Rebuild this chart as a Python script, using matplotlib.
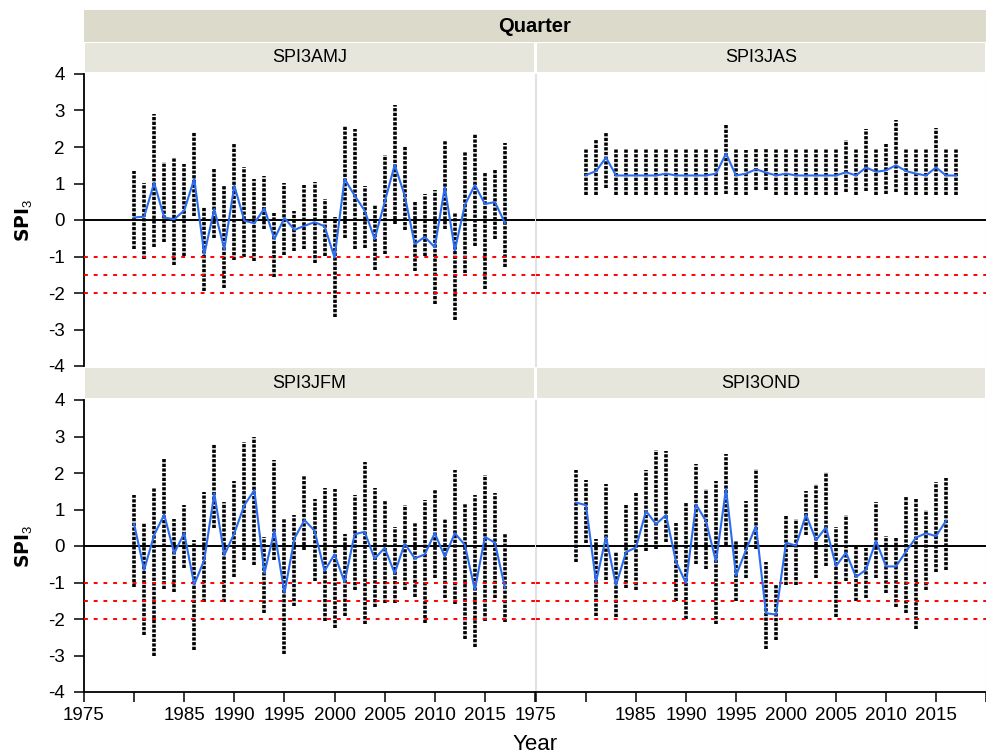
import matplotlib.pyplot as plt
from matplotlib.patches import Rectangle

plt.rcParams['font.family'] = ['Liberation Sans', 'DejaVu Sans']

W, H = 987, 756

# years for each quarter (OND is one year earlier)
years = list(range(1980, 2018))
years_ond = list(range(1979, 2017))

# SPI3 AMJ: station mean, lowest and highest station per year
amj_mean = [0.07, 0.09, 1.02, 0.07, 0.02, 0.26, 1.13, -0.94, 0.30, -0.80,
            0.94, -0.02, -0.09, 0.32, -0.52, 0.06, -0.27, -0.16, -0.06, -0.17,
            -1.03, 1.13, 0.67, 0.26, -0.52, 0.49, 1.51, 0.67, -0.66, -0.46,
            -0.75, 0.90, -0.83, 0.41, 0.96, 0.44, 0.49, -0.08]
amj_lo = [-0.80, -1.06, -0.75, -0.61, -1.24, -0.98, 0.12, -1.94, -0.50, -1.85,
          -1.09, -1.00, -1.12, -0.25, -1.55, -0.96, -0.84, -0.80, -1.18, -0.98,
          -2.65, -0.50, -0.80, -0.78, -1.37, -0.94, -0.11, -0.27, -1.39, -0.98,
          -2.31, -0.25, -2.74, -1.44, -0.71, -1.90, -0.52, -1.28]
amj_hi = [1.33, 1.02, 2.91, 1.59, 1.72, 1.54, 2.41, 0.35, 1.42, 0.93,
          2.12, 1.45, 1.11, 1.20, 0.19, 1.01, 0.26, 0.97, 1.04, 0.58,
          0.07, 2.58, 2.49, 0.94, 0.41, 1.77, 3.15, 2.03, 0.53, 0.72,
          0.81, 2.18, 0.19, 1.86, 2.35, 1.29, 1.39, 2.12]

# SPI3 JAS
jas_mean = [1.23, 1.34, 1.71, 1.22, 1.22, 1.22, 1.22, 1.22, 1.27, 1.22,
            1.22, 1.22, 1.22, 1.27, 1.82, 1.22, 1.27, 1.39, 1.30, 1.22,
            1.27, 1.22, 1.22, 1.22, 1.22, 1.22, 1.31, 1.22, 1.44, 1.32,
            1.36, 1.50, 1.34, 1.27, 1.22, 1.44, 1.22, 1.22]
jas_lo = [0.68, 0.68, 0.87, 0.68, 0.68, 0.68, 0.68, 0.68, 0.68, 0.68,
          0.68, 0.68, 0.68, 0.68, 0.72, 0.68, 0.68, 0.82, 0.82, 0.68,
          0.68, 0.68, 0.68, 0.68, 0.68, 0.68, 0.76, 0.68, 0.80, 0.68,
          0.70, 0.78, 0.68, 0.68, 0.68, 0.68, 0.68, 0.68]
jas_hi = [1.95, 2.22, 2.38, 1.95, 1.95, 1.95, 1.95, 1.95, 1.95, 1.95,
          1.95, 1.95, 1.95, 1.95, 2.59, 1.95, 1.92, 1.95, 1.95, 1.95,
          1.95, 1.95, 1.95, 1.95, 1.95, 1.95, 2.18, 1.95, 2.50, 1.95,
          2.08, 2.73, 1.95, 1.95, 1.95, 2.52, 1.95, 1.95]

# SPI3 JFM
jfm_mean = [0.60, -0.65, 0.30, 0.86, -0.20, 0.35, -1.06, -0.38, 1.44, -0.25,
            0.35, 1.12, 1.53, -0.75, 0.42, -1.29, 0.21, 0.71, 0.42, -0.68,
            -0.23, -0.99, 0.32, 0.39, -0.35, -0.05, -0.75, 0.07, -0.34, -0.23,
            0.35, -0.29, 0.35, 0.03, -1.20, 0.25, 0.09, -1.14]
jfm_lo = [-1.11, -2.45, -3.02, -1.17, -1.25, -0.61, -2.84, -1.54, 0.48, -1.54,
          -0.84, -0.38, -0.52, -1.84, -0.38, -2.95, -1.65, -0.11, -0.95, -2.06,
          -2.25, -1.93, -1.20, -2.14, -1.68, -1.56, -1.56, -1.20, -1.41, -2.11,
          -0.88, -1.43, -1.59, -2.54, -2.77, -2.05, -1.43, -2.08]
jfm_hi = [1.39, 0.62, 1.59, 2.39, 0.75, 1.12, 0.16, 1.48, 2.80, 1.21,
          1.77, 2.85, 2.98, 0.24, 2.35, 0.75, 0.86, 1.91, 1.30, 1.59,
          1.55, 0.32, 1.39, 2.30, 1.59, 1.25, 0.51, 1.12, 0.66, 1.25,
          1.53, 0.75, 2.07, 1.16, 1.41, 1.95, 1.44, 0.36]

# SPI3 OND
ond_mean = [1.19, 1.12, -0.99, 0.25, -1.08, -0.17, -0.04, 0.96, 0.60, 0.85,
            -0.43, -1.02, 1.14, 0.68, -0.43, 1.57, -0.81, -0.11, 0.55, -1.84,
            -1.88, 0.09, 0.01, 0.86, 0.16, 0.51, -0.55, -0.18, -0.85, -0.65,
            0.14, -0.56, -0.56, -0.15, 0.23, 0.35, 0.27, 0.69]
ond_lo = [-0.45, 0.07, -1.93, -0.93, -1.95, -1.14, -1.20, -0.13, -0.09, 0.12,
          -1.52, -1.99, -0.49, -0.64, -2.14, 0.03, -1.52, -0.88, -0.09, -2.82,
          -2.58, -1.06, -1.08, 0.30, -0.88, -0.56, -1.95, -0.97, -1.50, -1.43,
          -0.88, -1.29, -1.68, -1.84, -2.27, -1.20, -0.72, -0.65]
ond_hi = [2.09, 1.82, 0.19, 1.69, -0.17, 1.12, 1.44, 2.09, 2.64, 2.59,
          0.64, 1.21, 2.25, 1.57, 1.77, 2.51, 0.16, 1.24, 2.10, -0.45,
          -1.05, 0.85, 0.73, 1.51, 1.71, 2.03, 0.53, 0.85, -0.04, -0.05,
          1.21, 0.28, 0.24, 1.33, 1.32, 0.98, 1.75, 1.85]

thresholds = [-1, -1.5, -2]
xticks = [1975, 1980, 1985, 1990, 1995, 2000, 2005, 2010, 2015, 2020]
xticklabels = ['1975', '', '1985', '1990', '1995', '2000', '2005', '2010', '2015', '']
yticks = [-4, -3, -2, -1, 0, 1, 2, 3, 4]

BLUE = '#2b6cf0'
STRIP_DARK = '#dcdacb'
STRIP_LIGHT = '#e7e6dd'
FRAME = '#e2e2e2'


def frac(x0, y0, x1, y1):
    """pixel box (top-left origin) -> figure fraction rect"""
    return [x0 / W, 1 - y1 / H, (x1 - x0) / W, (y1 - y0) / H]


fig = plt.figure(figsize=(W / 100, H / 100), dpi=100)

# Quarter header
fig.patches.append(Rectangle((84 / W, 1 - 42 / H), (986 - 84) / W, 32 / H,
                             transform=fig.transFigure, facecolor=STRIP_DARK,
                             edgecolor='none'))
fig.text((84 + 986) / 2 / W, 1 - 26 / H, 'Quarter', ha='center', va='center',
         fontsize=14.5, fontweight='bold')

panels = [
    ('SPI3AMJ', years, amj_mean, amj_lo, amj_hi, 0, 0),
    ('SPI3JAS', years, jas_mean, jas_lo, jas_hi, 0, 1),
    ('SPI3JFM', years, jfm_mean, jfm_lo, jfm_hi, 1, 0),
    ('SPI3OND', years_ond, ond_mean, ond_lo, ond_hi, 1, 1),
]

col_x = [(84, 535), (536, 986)]
row_y = [(74, 366), (400, 692)]
strip_y = [(43, 72), (368, 398)]

for name, yrs, mean, lo, hi, r, c in panels:
    x0, x1 = col_x[c]
    y0, y1 = row_y[r]
    sy0, sy1 = strip_y[r]

    # panel strip
    fig.patches.append(Rectangle((x0 / W + 0.001, 1 - sy1 / H), (x1 - x0) / W - 0.002,
                                 (sy1 - sy0) / H, transform=fig.transFigure,
                                 facecolor=STRIP_LIGHT, edgecolor='none'))
    fig.text((x0 + x1) / 2 / W, 1 - (sy0 + sy1) / 2 / H, name, ha='center',
             va='center', fontsize=13)

    ax = fig.add_axes(frac(x0, y0, x1, y1))
    # station values per year, drawn as a stacked column of dots
    ax.vlines(yrs, lo, hi, colors='black', linewidth=2.6,
              linestyles=(0, (0.9, 0.4)), zorder=2)
    ax.axhline(0, color='black', linewidth=1.4, zorder=3)
    for t in thresholds:
        ax.axhline(t, color='red', linewidth=1.4, linestyle=(0, (2, 3)), zorder=3)
    ax.plot(yrs, mean, color=BLUE, linewidth=1.5, zorder=4)

    ax.set_xlim(1975, 2020)
    ax.set_ylim(-4, 4)

    for s in ax.spines.values():
        s.set_color(FRAME)
        s.set_linewidth(0.8)
    ax.spines['top'].set_visible(False)

    if c == 0:
        ax.spines['left'].set_color('black')
        ax.spines['left'].set_linewidth(1.3)
        ax.set_yticks(yticks)
        ax.set_yticklabels([str(v) for v in yticks])
        ax.tick_params(axis='y', direction='out', length=7, width=1.1,
                       labelsize=13.5, pad=7)
        fig.text(24 / W, 1 - (y0 + y1) / 2 / H, r'$\mathbf{SPI}_\mathregular{3}$',
                 rotation=90, ha='center', va='center', fontsize=13.5)
    else:
        ax.set_yticks([])

    if r == 1:
        ax.spines['bottom'].set_color('black')
        ax.spines['bottom'].set_linewidth(1.3)
        ax.set_xticks(xticks)
        ax.set_xticklabels(xticklabels)
        ax.tick_params(axis='x', direction='out', length=7, width=1.1,
                       labelsize=13.5, pad=4)
    else:
        ax.spines['bottom'].set_visible(False)
        ax.set_xticks([])

fig.text(535 / W, 1 - 745 / H, 'Year', ha='center', va='center', fontsize=16)

fig.savefig('out.png', dpi=100)
